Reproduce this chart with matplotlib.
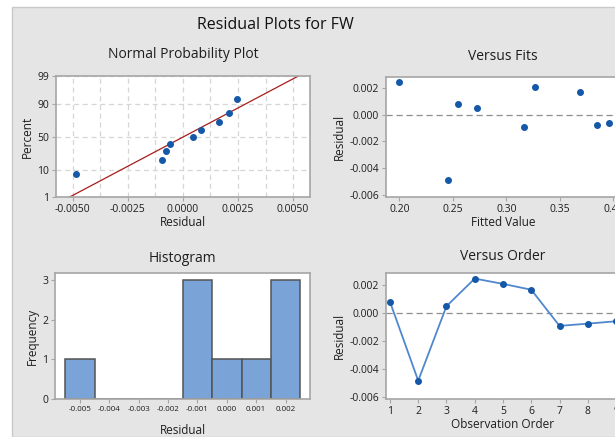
from statistics import NormalDist
import numpy as np
import matplotlib
matplotlib.use('Agg')
import matplotlib.pyplot as plt
from matplotlib.patches import Rectangle
from matplotlib.ticker import MultipleLocator, FixedLocator

plt.rcParams['font.family'] = ['Open Sans', 'DejaVu Sans']

# residuals in observation order, and their fitted values
order = [1, 2, 3, 4, 5, 6, 7, 8, 9]
resid = [0.0008, -0.00486, 0.00048, 0.00246, 0.00208, 0.00166, -0.00093, -0.00077, -0.0006]
fitted = [0.2552, 0.2452, 0.2729, 0.2000, 0.3268, 0.3686, 0.3168, 0.3848, 0.3960]

# histogram bin centres and probability ticks
bin_centers = [-0.005, -0.004, -0.003, -0.002, -0.001, 0.000, 0.001, 0.002]
prob_ticks = [1, 10, 50, 90, 99]

W, H = 615, 437
fig = plt.figure(figsize=(W / 100, H / 100), dpi=100)
fig.patch.set_facecolor('white')

# grey panel (the original window is cropped on the right)
fig.patches.append(Rectangle((12 / W, 0), 1, (H - 7) / H, transform=fig.transFigure,
                             facecolor='#e5e5e5', edgecolor='#c9c9c9', lw=1, zorder=-5))

def px_axes(x0, y0, x1, y1):
    return fig.add_axes([x0 / W, 1 - y1 / H, (x1 - x0) / W, (y1 - y0) / H])

blue = '#1558a8'
spine_col = '#a6a6a6'
txt = '#1e1e1e'

def style(ax, tsize=7.5):
    for s in ax.spines.values():
        s.set_color(spine_col)
        s.set_linewidth(1.2)
    ax.tick_params(direction='out', length=3, width=0.8, color=spine_col,
                   labelsize=tsize, labelcolor=txt, pad=2)
    ax.set_facecolor('white')

def labels(ax, title, xl, yl, ty, xy, yx):
    # ty, xy, yx: pixel positions of title, x label and y label
    x0, y0, w, h = ax.get_position().bounds
    fig.text(x0 + w / 2, 1 - ty / H, title, ha='center', va='center',
             fontsize=10, color=txt)
    ax.set_xlabel(xl, fontsize=8.5, color=txt)
    ax.set_ylabel(yl, fontsize=8.5, color=txt)
    ax.xaxis.set_label_coords(0.5, (H * (1 - y0) - xy) / (h * H))
    ax.xaxis.label.set_va('center')
    ax.yaxis.set_label_coords((yx - x0 * W) / (w * W), 0.5)
    ax.yaxis.label.set_va('center')

# ---- Normal probability plot
ax1 = px_axes(56, 76, 310, 197)
nd = NormalDist()
srt = np.sort(resid)
n = len(srt)
pp = [(i + 1 - 0.3) / (n + 0.4) for i in range(n)]
zz = [nd.inv_cdf(p) for p in pp]
mu, sd = np.mean(resid), np.std(resid, ddof=1)
zl = np.array([-2.4, 2.4])
ax1.plot(mu + sd * zl, zl, color='#a81c1c', lw=0.9, zorder=2)
ax1.plot(srt, zz, 'o', color=blue, ms=4, zorder=3)
ax1.set_xlim(-0.00576, 0.00577)
ax1.set_ylim(-2.33, 2.345)
ax1.xaxis.set_major_locator(FixedLocator([-0.005, -0.0025, 0, 0.0025, 0.005]))
ax1.xaxis.set_minor_locator(MultipleLocator(0.00125))
ax1.set_xticklabels(['-0.0050', '-0.0025', '0.0000', '0.0025', '0.0050'])
ax1.set_yticks([nd.inv_cdf(p / 100) for p in prob_ticks])
ax1.set_yticklabels([str(p) for p in prob_ticks])
ax1.tick_params(axis='x', which='minor', length=0)
ax1.grid(True, which='both', axis='x', color='#d6d6d6', ls=(0, (4, 3)), lw=0.9)
ax1.grid(True, which='major', axis='y', color='#d6d6d6', ls=(0, (4, 3)), lw=0.9)
ax1.set_axisbelow(True)
style(ax1)
labels(ax1, 'Normal Probability Plot', 'Residual', 'Percent', 55, 223, 27)

# ---- Versus fits
ax2 = px_axes(386, 77, 620, 197)
ax2.axhline(0, color='#8f8f8f', ls=(0, (5, 3)), lw=0.9)
ax2.plot(fitted, resid, 'o', color=blue, ms=4)
ax2.set_xlim(0.1876, 0.4063)
ax2.set_ylim(-0.00615, 0.0028)
ax2.set_xticks([0.20, 0.25, 0.30, 0.35, 0.40])
ax2.set_xticklabels(['0.20', '0.25', '0.30', '0.35', '0.40'])
ax2.set_yticks([0.002, 0, -0.002, -0.004, -0.006])
ax2.set_yticklabels(['0.002', '0.000', '-0.002', '-0.004', '-0.006'])
style(ax2)
labels(ax2, 'Versus Fits', 'Fitted Value', 'Residual', 56, 223, 339)

# ---- Histogram
ax3 = px_axes(55, 273, 310, 399)
edges = [c - 0.0005 for c in bin_centers] + [bin_centers[-1] + 0.0005]
ax3.hist(resid, bins=edges, color='#7aa4d8', edgecolor='#545454', lw=1.1)
ax3.set_xlim(-0.00585, 0.00283)
ax3.set_ylim(0, 3.18)
ax3.set_xticks(bin_centers)
ax3.set_xticklabels(['-0.005', '-0.004', '-0.003', '-0.002', '-0.001', '0.000', '0.001', '0.002'])
ax3.set_yticks([0, 1, 2, 3])
style(ax3)
ax3.tick_params(axis='x', labelsize=5.8)
labels(ax3, 'Histogram', 'Residual', 'Frequency', 258, 431, 32)

# ---- Versus order
ax4 = px_axes(386, 273, 620, 399)
ax4.axhline(0, color='#8f8f8f', ls=(0, (5, 3)), lw=0.9)
ax4.plot(order, resid, '-', color='#4f88cc', lw=1.3)
ax4.plot(order, resid, 'o', color=blue, ms=4)
ax4.set_xlim(0.86, 9.14)
ax4.set_ylim(-0.00617, 0.00286)
ax4.set_xticks(order)
ax4.set_yticks([0.002, 0, -0.002, -0.004, -0.006])
ax4.set_yticklabels(['0.002', '0.000', '-0.002', '-0.004', '-0.006'])
style(ax4)
labels(ax4, 'Versus Order', 'Observation Order', 'Residual', 257, 425, 339)

fig.text(275 / W, 1 - 25 / H, 'Residual Plots for FW', ha='center', va='center',
         fontsize=11.5, color='#111111')

fig.savefig('out.png', dpi=100)
